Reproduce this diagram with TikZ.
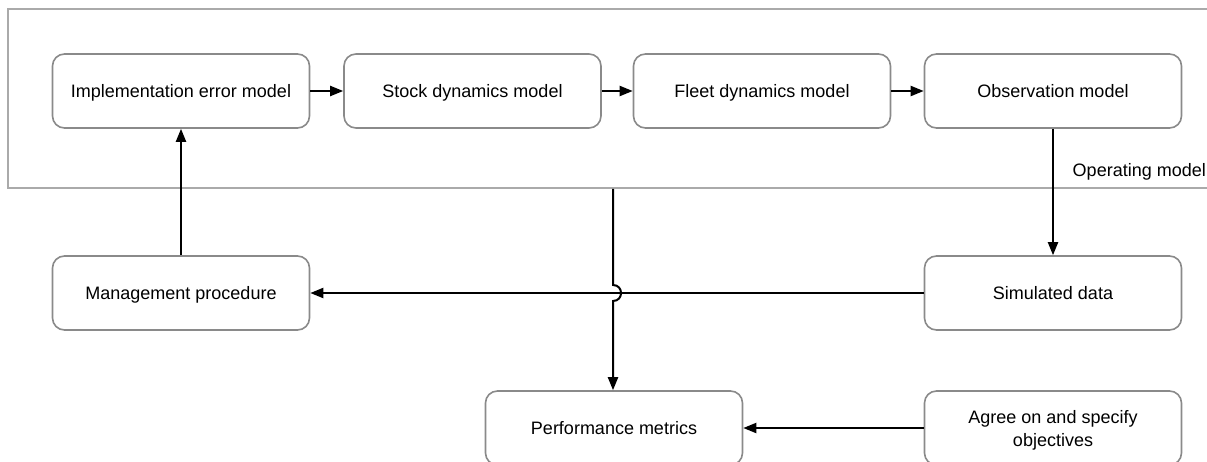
\documentclass[tikz,border=0pt]{standalone}
\usepackage{fontspec}
\setmainfont{Liberation Sans}
\usetikzlibrary{arrows.meta,calc}
\definecolor{boxgray}{HTML}{8A8A8A}
\definecolor{framegray}{HTML}{AAAAAA}
\tikzset{
  mbox/.style={draw=boxgray, line width=1.6pt, rounded corners=12pt, fill=white,
    minimum width=257pt, minimum height=74pt, inner sep=2pt, align=center,
    font=\fontsize{18}{23}\selectfont},
  one/.style={text height=15.5pt, text depth=3pt},
  two/.style={text height=39pt, text depth=3pt},
  frame/.style={draw=framegray, line width=1.6pt, minimum width=1216pt, minimum height=179pt, inner sep=0pt},
  conn/.style={line width=2pt, -{Triangle[length=13pt,width=10pt]}},
  lbl/.style={font=\fontsize{18}{21}\selectfont, inner sep=0pt, text height=15.5pt, text depth=3pt}
}
\begin{document}
\begin{tikzpicture}[x=1pt,y=-1pt]
\useasboundingbox (0,0) rectangle (1207,461);
\node[frame] (om) at (616,98.5) {};
\node[lbl, anchor=east] (oml) at (1206,170) {Operating model};
\node[mbox, one] (ie) at (181,91) {Implementation error model};
\node[mbox, one] (sd) at (472.5,91) {Stock dynamics model};
\node[mbox, one] (fd) at (762,91) {Fleet dynamics model};
\node[mbox, one] (ob) at (1053,91) {Observation model};
\node[mbox, one] (mp) at (181,293) {Management procedure};
\node[mbox, one] (sim) at (1053,293) {Simulated data};
\node[mbox, one] (pm) at (614,428) {Performance metrics};
\node[mbox, two] (ag) at (1053,428) {Agree on and specify\\objectives};
\draw[conn] (ie) -- (sd);
\draw[conn] (sd) -- (fd);
\draw[conn] (fd) -- (ob);
\draw[conn] (ob) -- (sim);
\draw[conn] (sim) -- (mp);
\draw[conn] (mp) -- (ie);
\draw[conn] (ag) -- (pm);
\coordinate (cross) at ($(pm.north |- mp.east)+(-1,0)$);
\draw[conn] ($(om.south -| cross)$) -- ($(cross)+(0,-8)$)
  .. controls +(10.7,0) and +(10.7,0) .. ($(cross)+(0,8)$)
  -- ($(pm.north)+(-1,0)$);
\end{tikzpicture}
\end{document}
